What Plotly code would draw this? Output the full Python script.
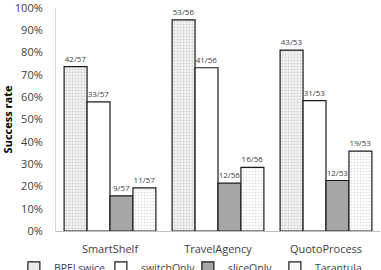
import plotly.graph_objects as go

categories = ["SmartShelf", "TravelAgency", "QuotoProcess"]
series_names = ["BPELswice", "switchOnly", "sliceOnly", "Tarantula"]
totals = [57, 56, 53]
bpel_hits = [42, 53, 43]
switch_hits = [33, 41, 31]
slice_hits = [9, 12, 12]
tarantula_hits = [11, 16, 19]
y_ticks = [0, 0.1, 0.2, 0.3, 0.4, 0.5, 0.6, 0.7, 0.8, 0.9, 1.0]
y_tick_labels = ["0%", "10%", "20%", "30%", "40%", "50%", "60%", "70%", "80%", "90%", "100%"]

styles = [
    dict(color="white", pattern=dict(shape="+", size=3, fgcolor="#9a9a9a", bgcolor="#f4f4f4", solidity=0.25)),
    dict(color="white"),
    dict(color="#a6a6a6"),
    dict(color="white", pattern=dict(shape=".", size=3, fgcolor="#b8b8b8", bgcolor="white", solidity=0.25)),
]

fig = go.Figure()
for name, hits, st in zip(series_names, [bpel_hits, switch_hits, slice_hits, tarantula_hits], styles):
    vals = [h / t for h, t in zip(hits, totals)]
    labels = [f"{h}/{t}" for h, t in zip(hits, totals)]
    fig.add_trace(go.Bar(
        x=categories, y=vals, name=name,
        text=labels, textposition="outside",
        textfont=dict(size=8, color="#404040", family="Open Sans"),
        cliponaxis=False,
        marker=dict(line=dict(color="#1a1a1a", width=1.2), **st),
    ))

fig.update_layout(
    width=381, height=270,
    margin=dict(l=56, r=1, t=8, b=39, autoexpand=False),
    paper_bgcolor="white", plot_bgcolor="white",
    barmode="group", bargap=0.15, bargroupgap=0,
    font=dict(family="Open Sans", color="#404040"),
    showlegend=True,
    legend=dict(orientation="h", x=-0.13, xanchor="left", y=-0.10, yanchor="top",
                font=dict(size=10.5, color="#404040"), itemwidth=30, traceorder="normal",
                entrywidth=42, entrywidthmode="pixels", tracegroupgap=0,
                bgcolor="rgba(0,0,0,0)"),
    xaxis=dict(showline=True, linecolor="#bfbfbf", linewidth=1, ticks="",
               tickfont=dict(size=11, color="#404040"), ticklabelstandoff=8),
    yaxis=dict(range=[0, 1.0001], tickvals=y_ticks, ticktext=y_tick_labels,
               showgrid=False, zeroline=False, showline=True, linecolor="#d9d9d9",
               tickfont=dict(size=11, color="#404040"), ticklabelstandoff=10,
               ticklabeloverflow="allow",
               title=dict(text="<b>Success rate</b>", font=dict(size=11, color="black"), standoff=2)),
)

fig.write_html("out.html")
